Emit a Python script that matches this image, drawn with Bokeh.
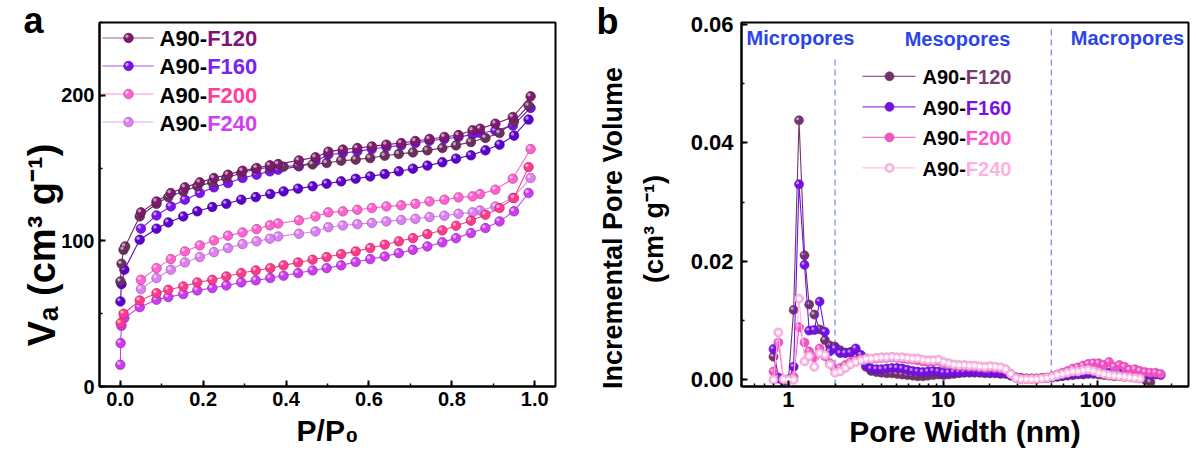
import math
from bokeh.plotting import figure
from bokeh.models import (Range1d, SingleIntervalTicker, FixedTicker,
                          PrintfTickFormatter, NumeralTickFormatter, Label)
from bokeh.core.properties import value
from bokeh.layouts import row
from bokeh.embed import file_html
from bokeh.resources import INLINE

FONT = "Liberation Sans"

# ---------------- data: panel a (N2 isotherms) ----------------
samples = ["F120", "F160", "F200", "F240"]
ads_p = [0.047, 0.0875, 0.116, 0.152, 0.186, 0.222, 0.256, 0.292, 0.327, 0.362,
         0.394, 0.429, 0.464, 0.498, 0.533, 0.568, 0.603, 0.638, 0.672, 0.706,
         0.741, 0.777, 0.81, 0.846, 0.881, 0.915, 0.95, 0.985]
des_p = [0.99, 0.947, 0.905, 0.868, 0.85, 0.816, 0.782, 0.746, 0.712, 0.678,
         0.642, 0.607, 0.572, 0.537, 0.502, 0.471, 0.431, 0.381, 0.361, 0.329,
         0.295, 0.26, 0.226, 0.192, 0.156, 0.122, 0.0875, 0.05]

f120_low_p = [0.0005, 0.003, 0.008, 0.012]
f120_low_v = [72.2, 84.3, 93.9, 96.2]
f160_low_p = [0.0005, 0.003, 0.01]
f160_low_v = [58.4, 70.3, 80.2]
f200_low_p = [0.001, 0.008]
f200_low_v = [43.5, 50.0]
f240_low_p = [0.0003, 0.001, 0.003, 0.01]
f240_low_v = [14.9, 29.8, 41.7, 47.0]

f120_ads = [116.8, 125.5, 130.1, 134.0, 137.5, 140.2, 143.2, 146.6, 149.4, 150.5,
            151.0, 151.8, 152.5, 153.5, 155.1, 155.8, 156.9, 158.5, 159.7, 160.8,
            162.2, 163.8, 165.6, 167.9, 170.7, 174.1, 182.0, 193.0]
f160_ads = [100.8, 108.4, 112.7, 116.8, 120.3, 123.3, 125.5, 128.3, 130.1, 132.2,
            134.0, 135.9, 137.5, 139.3, 140.9, 142.7, 144.3, 145.9, 147.8, 149.6,
            151.7, 154.0, 156.5, 158.8, 162.2, 166.1, 172.3, 183.3]
f200_ads = [59.1, 64.1, 66.4, 68.7, 71.5, 73.3, 75.6, 77.9, 79.7, 81.3,
            83.2, 85.2, 87.1, 88.9, 90.9, 92.8, 95.1, 97.4, 99.7, 101.9,
            104.7, 107.2, 110.4, 113.9, 118.0, 122.6, 129.4, 150.7]
f240_ads = [54.5, 59.6, 61.4, 63.5, 66.0, 67.6, 69.4, 71.5, 72.9, 74.5,
            76.1, 77.9, 79.7, 81.3, 83.2, 85.5, 87.5, 89.3, 91.6, 93.9,
            96.2, 99.0, 101.9, 105.4, 108.8, 113.4, 120.3, 132.9]

f120_des = [199.3, 185.1, 180.5, 177.1, 176.0, 172.7, 171.4, 170.0, 168.6, 167.2,
            166.1, 164.9, 163.8, 162.7, 161.3, 157.4, 155.3, 152.8, 151.9, 150.1,
            148.2, 145.5, 143.2, 140.2, 136.8, 132.9, 127.1, 119.6]
f160_des = [191.3, 179.2, 175.7, 174.1, 173.0, 171.4, 170.0, 168.8, 167.2, 165.6,
            164.5, 163.1, 161.5, 160.4, 159.2, 154.6, 151.2, 148.9, 147.8, 145.5,
            143.2, 139.7, 136.8, 132.9, 128.3, 123.7, 117.5, 108.4]
f200_des = [163.1, 142.7, 135.2, 132.2, 130.6, 129.9, 128.3, 127.1, 125.5, 124.4,
            123.7, 122.6, 121.4, 120.3, 119.6, 116.8, 114.1, 112.0, 110.7, 108.1,
            105.8, 103.6, 100.3, 96.9, 92.8, 87.5, 81.3, 73.3]
f240_des = [143.2, 129.6, 123.7, 120.9, 119.6, 118.7, 117.3, 116.4, 115.2, 114.4,
            113.4, 112.3, 111.5, 110.6, 109.4, 106.5, 104.9, 103.1, 101.5, 99.7,
            97.8, 95.1, 92.3, 88.9, 85.2, 80.2, 74.5, 66.9]

# ---------------- data: panel b (pore size distribution) ----------------
pore_width = [0.80, 0.86, 0.93, 1.00, 1.08, 1.17, 1.27, 1.36, 1.47, 1.59,
              1.72, 1.85, 2.00, 2.16, 2.33, 2.52, 2.72, 2.94, 3.17, 3.42,
              3.70, 3.99, 4.31, 4.66, 5.03, 5.43, 5.87, 6.34, 6.84, 7.39,
              7.98, 8.62, 9.31, 10.05, 10.86, 11.73, 12.67, 13.68, 14.77, 15.95,
              17.23, 18.61, 20.10, 21.70, 23.44, 25.32, 27.34, 29.53, 31.89, 34.44,
              37.20, 40.18, 43.39, 46.86, 50.61, 54.66, 59.03, 63.75, 68.85, 74.36,
              80.31, 86.73, 93.67, 101.2, 109.3, 118.0, 127.4, 137.6, 148.6, 160.5,
              173.4, 187.2, 202.2, 218.4, 235.9, 254.7]
psd_f120 = [0.0039, 0.0002, 0.0000, 0.0001, 0.0118, 0.0438, 0.0210, 0.0127, 0.0110, 0.0085,
            0.0067, 0.0058, 0.0056, 0.0050, 0.0046, 0.0047, 0.0050, 0.0040, 0.0022, 0.0015,
            0.0013, 0.0012, 0.0011, 0.0011, 0.0010, 0.0009, 0.0008, 0.0007, 0.0006, 0.0006,
            0.0007, 0.0008, 0.0009, 0.0008, 0.0009, 0.0010, 0.0011, 0.0012, 0.0012, 0.0012,
            0.0012, 0.0011, 0.0011, 0.0011, 0.0010, 0.0010, 0.0007, 0.0004, 0.0003, 0.0002,
            0.0002, 0.0002, 0.0003, 0.0003, 0.0004, 0.0005, 0.0006, 0.0007, 0.0008, 0.0009,
            0.0009, 0.0010, 0.0010, 0.0009, 0.0008, 0.0007, 0.0006, 0.0006, 0.0005, 0.0005,
            0.0004, 0.0003, 0.0000, -0.0004]
psd_f160 = [0.0052, 0.0004, -0.0002, 0.0000, 0.0022, 0.0330, 0.0194, 0.0083, 0.0084, 0.0132,
            0.0081, 0.0048, 0.0053, 0.0045, 0.0045, 0.0046, 0.0053, 0.0042, 0.0025, 0.0019,
            0.0018, 0.0018, 0.0019, 0.0020, 0.0020, 0.0019, 0.0017, 0.0015, 0.0014, 0.0013,
            0.0014, 0.0015, 0.0014, 0.0012, 0.0012, 0.0013, 0.0013, 0.0013, 0.0014, 0.0014,
            0.0013, 0.0013, 0.0012, 0.0012, 0.0012, 0.0011, 0.0008, 0.0004, 0.0002, 0.0002,
            0.0002, 0.0002, 0.0003, 0.0003, 0.0004, 0.0006, 0.0007, 0.0009, 0.0010, 0.0011,
            0.0011, 0.0012, 0.0012, 0.0011, 0.0011, 0.0012, 0.0012, 0.0013, 0.0013, 0.0012,
            0.0011, 0.0011, 0.0010, 0.0009, 0.0009, 0.0008]
psd_f200 = [0.0014, 0.0063, 0.0000, 0.0000, 0.0005, 0.0089, 0.0063, 0.0048, 0.0038, 0.0053,
            0.0040, 0.0028, 0.0018, 0.0020, 0.0025, 0.0030, 0.0033, 0.0035, 0.0036, 0.0035,
            0.0036, 0.0037, 0.0037, 0.0038, 0.0037, 0.0036, 0.0035, 0.0034, 0.0033, 0.0031,
            0.0030, 0.0031, 0.0032, 0.0028, 0.0026, 0.0024, 0.0023, 0.0023, 0.0022, 0.0022,
            0.0021, 0.0020, 0.0021, 0.0020, 0.0019, 0.0017, 0.0010, 0.0004, 0.0002, 0.0002,
            0.0002, 0.0002, 0.0003, 0.0004, 0.0006, 0.0009, 0.0012, 0.0015, 0.0019, 0.0021,
            0.0024, 0.0027, 0.0028, 0.0028, 0.0025, 0.0030, 0.0022, 0.0025, 0.0022, 0.0017,
            0.0018, 0.0015, 0.0013, 0.0012, 0.0012, 0.0010]
psd_f240 = [0.0000, 0.0080, 0.0001, 0.0000, 0.0000, 0.0137, 0.0031, 0.0040, 0.0022, 0.0045,
            0.0042, 0.0026, 0.0012, 0.0014, 0.0020, 0.0026, 0.0030, 0.0033, 0.0035, 0.0036,
            0.0037, 0.0038, 0.0038, 0.0039, 0.0038, 0.0038, 0.0037, 0.0036, 0.0036, 0.0034,
            0.0033, 0.0033, 0.0034, 0.0030, 0.0028, 0.0026, 0.0025, 0.0025, 0.0024, 0.0024,
            0.0023, 0.0022, 0.0023, 0.0022, 0.0021, 0.0018, 0.0010, 0.0003, 0.0001, 0.0001,
            0.0001, 0.0001, 0.0002, 0.0003, 0.0005, 0.0008, 0.0010, 0.0012, 0.0014, 0.0014,
            0.0016, 0.0017, 0.0015, 0.0012, 0.0010, 0.0008, 0.0007, 0.0006, 0.0005, 0.0004,
            0.0003, 0.0002]
boundaries = [2, 50]
regions = ["Micropores", "Mesopores", "Macropores"]

# ---------------- styles ----------------
a_ads_col = ["#6C2E5F", "#5C00CC", "#FF3A8C", "#CC3BEF"]
a_des_col = ["#7D1A6E", "#7B12F0", "#FF62CF", "#DD80F2"]
a_leg_text = ["#7E1478", "#7A22F2", "#FF3D9C", "#CF42EE"]
b_col = ["#74346A", "#7410E4", "#F452C6", "#FFB4E6"]
b_leg_text = ["#7A3C70", "#7A12E8", "#FF55C8", "#FFB2E2"]
region_col = "#2B45E8"
dash_col = "#7E93E8"


def darken(h, f=0.72):
    h = h.lstrip("#")
    r, g, b = (int(h[i:i + 2], 16) for i in (0, 2, 4))
    return "#%02x%02x%02x" % (int(r * f), int(g * f), int(b * f))


# page geometry (px) -- page origin observed at (0, 0)
PAGE = 0
A_L, A_R, A_T, A_B = 99, 555, 22, 387
B_L, B_R, B_T, B_B = 741, 1188, 21, 386
FIG_A_W = 588
FIG_H = 459
XA = (-0.05, 1.05)
YA = (0, 250)
XB = (0.497, 385.0)
YB = (-0.00113, 0.0603)


def a_x(px):
    return XA[0] + (px - A_L) / (A_R - A_L) * (XA[1] - XA[0])


def a_y(py):
    return YA[0] + (A_B - py) / (A_B - A_T) * (YA[1] - YA[0])


LB0, LB1 = math.log10(XB[0]), math.log10(XB[1])


def b_x(px):
    return 10 ** (LB0 + (px - B_L) / (B_R - B_L) * (LB1 - LB0))


def b_y(py):
    return YB[0] + (B_B - py) / (B_B - B_T) * (YB[1] - YB[0])


def style(p, tick_size):
    p.outline_line_color = "black"
    p.outline_line_width = 2
    p.xgrid.visible = False
    p.ygrid.visible = False
    p.background_fill_color = "white"
    p.border_fill_color = "white"
    for ax in (p.xaxis[0], p.yaxis[0]):
        ax.axis_line_width = 2
        ax.major_tick_in = 6
        ax.major_tick_out = 0
        ax.minor_tick_in = 3
        ax.minor_tick_out = 0
        ax.major_tick_line_width = 2
        ax.minor_tick_line_width = 1.5
        ax.major_label_text_font = FONT
        ax.major_label_text_font_style = "bold"
        ax.major_label_text_font_size = tick_size
        ax.major_label_text_color = "black"
        ax.axis_label_text_font = FONT
        ax.axis_label_text_font_style = "bold"
        ax.axis_label_text_font_size = "30px"
        ax.axis_label_text_color = "black"
        ax.major_label_standoff = 5


def lbl(p, x, y, text, size, color="black", align="left", baseline="middle"):
    p.add_layout(Label(x=x, y=y, text=text, text_font=FONT, text_font_style="bold",
                       text_font_size=size, text_color=color, text_align=align,
                       text_baseline=baseline))


def free_text(p, x, y, text, size, align="left", angle=0.0):
    # text glyph drawn at the overlay level so it may sit outside the frame
    p.text(x=[x], y=[y], text=[text], angle=angle, text_font=value(FONT),
           text_font_style="bold", text_font_size=size, text_color="black",
           text_align=align, text_baseline="middle", level="overlay")


# ================= panel a =================
pa = figure(width=FIG_A_W, height=FIG_H, output_backend="svg", toolbar_location=None,
            x_range=Range1d(*XA), y_range=Range1d(*YA),
            min_border_left=A_L - PAGE, min_border_right=FIG_A_W - (A_L - PAGE) - (A_R - A_L),
            min_border_top=A_T - PAGE, min_border_bottom=FIG_H - (A_T - PAGE) - (A_B - A_T))
style(pa, "20px")
pa.xaxis.ticker = SingleIntervalTicker(interval=0.2, num_minor_ticks=2)
pa.yaxis.ticker = SingleIntervalTicker(interval=100, num_minor_ticks=2)
pa.xaxis.formatter = PrintfTickFormatter(format="%.1f")
pa.xaxis.axis_label = "P/P\u2080"
pa.xaxis.axis_label_standoff = 5

low_p = [f120_low_p, f160_low_p, f200_low_p, f240_low_p]
low_v = [f120_low_v, f160_low_v, f200_low_v, f240_low_v]
ads_v = [f120_ads, f160_ads, f200_ads, f240_ads]
des_v = [f120_des, f160_des, f200_des, f240_des]

hx_a = 1.6 * (XA[1] - XA[0]) / (A_R - A_L)
hy_a = 1.6 * (YA[1] - YA[0]) / (A_B - A_T)

for i in [3, 2, 1, 0]:
    branches = [(low_p[i] + ads_p, low_v[i] + ads_v[i], a_ads_col[i]),
                (des_p, des_v[i], a_des_col[i])]
    for xs, ys, c in branches:
        pa.line(xs, ys, line_color=c, line_width=1.1)
        pa.scatter(xs, ys, size=9.5, fill_color=c, line_color=darken(c), line_width=0.7)
        pa.scatter([x - hx_a for x in xs], [y + hy_a for y in ys], size=3.5,
                   fill_color="white", fill_alpha=0.55, line_alpha=0)

# legend a
for i, s in enumerate(samples):
    ry = 37.5 + 28.1 * i
    pa.line([a_x(102), a_x(153)], [a_y(ry), a_y(ry)], line_color=a_des_col[i],
            line_width=1.1, line_alpha=0.7)
    pa.scatter([a_x(128)], [a_y(ry)], size=9.5, fill_color=a_des_col[i],
               line_color=darken(a_des_col[i]), line_width=0.7)
    pa.scatter([a_x(128) - hx_a], [a_y(ry) + hy_a], size=3.5, fill_color="white",
               fill_alpha=0.55, line_alpha=0)
    lbl(pa, a_x(159), a_y(ry + 1), "A90-", "22px")
    lbl(pa, a_x(159 + 2.167 * 22), a_y(ry + 1), s, "22px", color=a_leg_text[i])

free_text(pa, a_x(41), a_y(245), "V\u2090 (cm\u00b3 g\u207b\u00b9)", "38px", align="center",
          angle=math.pi / 2)
free_text(pa, a_x(23), a_y(20), "a", "36px")

# ================= panel b =================
FIG_B_X = PAGE + FIG_A_W
FIG_B_W = 1196 - FIG_B_X
pb = figure(width=FIG_B_W, height=FIG_H, output_backend="svg", toolbar_location=None,
            x_axis_type="log", x_range=Range1d(*XB), y_range=Range1d(*YB),
            min_border_left=B_L - FIG_B_X, min_border_right=FIG_B_W - (B_L - FIG_B_X) - (B_R - B_L),
            min_border_top=B_T - PAGE, min_border_bottom=FIG_H - (B_T - PAGE) - (B_B - B_T))
style(pb, "22px")
minor = [m * 10 ** e for e in (-1, 0, 1, 2) for m in range(2, 10) if XB[0] < m * 10 ** e < XB[1]]
pb.xaxis.ticker = FixedTicker(ticks=[1, 10, 100], minor_ticks=minor)
pb.xaxis.formatter = NumeralTickFormatter(format="0")
pb.yaxis.ticker = SingleIntervalTicker(interval=0.02, num_minor_ticks=2)
pb.yaxis.formatter = PrintfTickFormatter(format="%.2f")
pb.yaxis.major_label_standoff = 8
pb.xaxis.axis_label = "Pore Width (nm)"
pb.xaxis.axis_label_standoff = 5

# dashed region boundaries
pb.segment(x0=boundaries, y0=[b_y(385)] * 2, x1=boundaries, y1=[b_y(58), b_y(28)],
           line_color=dash_col, line_width=1.3, line_dash="6 4")

psd = [psd_f120, psd_f160, psd_f200, psd_f240]
hf = 10 ** (-1.5 / ((B_R - B_L) / (LB1 - LB0)))
hy_b = 1.5 * (YB[1] - YB[0]) / (B_B - B_T)
for i in range(4):
    xs = pore_width[:len(psd[i])]
    ys = psd[i]
    pb.line(xs, ys, line_color=b_col[i], line_width=1.1)
    pb.scatter(xs, ys, size=9, fill_color=b_col[i], line_color=darken(b_col[i], 0.85),
               line_width=0.6)
    if i == 3:
        pb.scatter(xs, ys, size=4.5, fill_color="white", fill_alpha=0.9, line_alpha=0)
    else:
        pb.scatter([x * hf for x in xs], [y + hy_b for y in ys], size=3.2,
                   fill_color="white", fill_alpha=0.5, line_alpha=0)

# region labels
for name, cx, cy in zip(regions, [800, 957, 1127], [37, 38, 37]):
    lbl(pb, b_x(cx), b_y(cy), name, "20px", color=region_col, align="center")

# legend b
for i, s in enumerate(samples):
    ry = 75 + 30.6 * i
    pb.line([b_x(862), b_x(915)], [b_y(ry), b_y(ry)], line_color=b_col[i],
            line_width=1.1, line_alpha=0.8)
    pb.scatter([b_x(889)], [b_y(ry)], size=9, fill_color=b_col[i],
               line_color=darken(b_col[i], 0.85), line_width=0.6)
    if i == 3:
        pb.scatter([b_x(889)], [b_y(ry)], size=4.5, fill_color="white", fill_alpha=0.9,
                   line_alpha=0)
    lbl(pb, b_x(922), b_y(ry + 1), "A90-", "20px")
    lbl(pb, b_x(922 + 2.167 * 20), b_y(ry + 1), s, "20px", color=b_leg_text[i])

free_text(pb, b_x(612), b_y(227), "Incremental Pore Volume", "27px", align="center",
          angle=math.pi / 2)
free_text(pb, b_x(653), b_y(228), "(cm\u00b3 g\u207b\u00b9)", "27px", align="center",
          angle=math.pi / 2)
free_text(pb, b_x(596), b_y(20), "b", "36px")

layout = row(pa, pb)
open("out.html", "w").write(file_html(layout, INLINE))
